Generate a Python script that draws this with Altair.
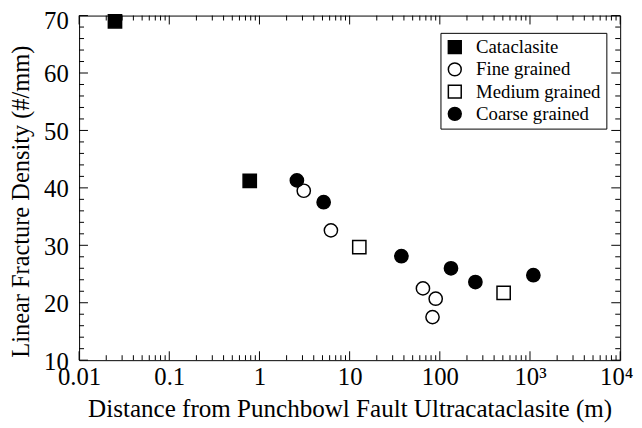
import altair as alt
import pandas as pd

FONT = "Liberation Serif"

categories = ["Cataclasite", "Fine grained", "Medium grained", "Coarse grained"]
shapes = ["square", "circle", "square", "circle"]
fills = ["black", "white", "white", "black"]

cataclasite_x = [0.025, 0.78]
cataclasite_y = [69.0, 41.2]
fine_x = [3.1, 6.2, 65, 90, 83]
fine_y = [39.5, 32.6, 22.5, 20.7, 17.5]
medium_x = [12.8, 510]
medium_y = [29.7, 21.7]
coarse_x = [2.6, 5.15, 37.5, 133, 248, 1090]
coarse_y = [41.3, 37.5, 28.1, 26.0, 23.6, 24.8]

x_major = [0.01, 0.1, 1, 10, 100, 1000, 10000]
x_labels = ["0.01", "0.1", "1", "10", "100", "10³", "10⁴"]
x_minor = [k * d for d in [0.01, 0.1, 1, 10, 100, 1000] for k in range(2, 10)]
y_major = [10, 20, 30, 40, 50, 60, 70]
y_minor = [v for v in range(12, 70, 2) if v % 10 != 0]

rows = []
for cat, xs, ys in zip(categories,
                       [cataclasite_x, fine_x, medium_x, coarse_x],
                       [cataclasite_y, fine_y, medium_y, coarse_y]):
    for xv, yv in zip(xs, ys):
        rows.append({"cat": cat, "x": xv, "y": yv})
df = pd.DataFrame(rows)

W, H = 548, 349
MAJ, MIN = 9, 5

xscale = alt.Scale(type="log", domain=[0.01, 10000], nice=False)
yscale = alt.Scale(domain=[10, 70], nice=False, zero=False)

expr = "''"
for v, l in reversed(list(zip(x_major, x_labels))):
    expr = f"datum.value < {v * 1.5} ? '{l}' : ({expr})"

points = alt.Chart(df).mark_point(
    filled=True, stroke="black", strokeWidth=1.5, size=180, opacity=1
).encode(
    x=alt.X("x:Q", scale=xscale,
            axis=alt.Axis(values=x_major, labelExpr=expr, ticks=False, domain=False,
                          grid=False, labelFlush=False, labelOverlap=False,
                          labelPadding=5, labelFont=FONT, labelFontSize=25,
                          labelOffset={"condition": {"test": "datum.value > 5000", "value": -4},
                                       "value": 0},
                          titleFont=FONT, titleFontSize=25.4, titleFontWeight="normal",
                          title="Distance from Punchbowl Fault Ultracataclasite (m)",
                          titlePadding=7)),
    y=alt.Y("y:Q", scale=yscale,
            axis=alt.Axis(values=y_major, ticks=False, domain=False, grid=False,
                          labelPadding=11, labelFlush=False, labelOverlap=False,
                          labelFont=FONT, labelFontSize=25,
                          labelBaseline={"condition": {"test": "datum.value == 70", "value": "top"},
                                         "value": "middle"},
                          labelOffset={"condition": {"test": "datum.value == 70", "value": -7},
                                       "value": 1},
                          titleFont=FONT, titleFontSize=24.7, titleFontWeight="normal",
                          title="Linear Fracture Density (#/mm)",
                          titleX=-46, titleY=188)),
    shape=alt.Shape("cat:N", scale=alt.Scale(domain=categories, range=shapes),
                    legend=alt.Legend(title=None)),
    fill=alt.Fill("cat:N", scale=alt.Scale(domain=categories, range=fills),
                  legend=alt.Legend(title=None)),
)


def xticks(vals, length):
    d = pd.DataFrame({"v": vals})
    bottom = alt.Chart(d).mark_rule(color="black", strokeWidth=1).encode(
        x=alt.X("v:Q", scale=xscale), y=alt.value(H), y2=alt.value(H - length))
    top = alt.Chart(d).mark_rule(color="black", strokeWidth=1).encode(
        x=alt.X("v:Q", scale=xscale), y=alt.value(0), y2=alt.value(length))
    return [bottom, top]


def yticks(vals, length):
    d = pd.DataFrame({"v": vals})
    left = alt.Chart(d).mark_rule(color="black", strokeWidth=1).encode(
        y=alt.Y("v:Q", scale=yscale), x=alt.value(0), x2=alt.value(length))
    right = alt.Chart(d).mark_rule(color="black", strokeWidth=1).encode(
        y=alt.Y("v:Q", scale=yscale), x=alt.value(W), x2=alt.value(W - length))
    return [left, right]


layers = (xticks(x_major, MAJ) + xticks(x_minor, MIN)
          + yticks(y_major, MAJ) + yticks(y_minor, MIN) + [points])

chart = alt.layer(*layers).properties(
    width=W, height=H,
    autosize=alt.AutoSizeParams(type="none"),
    padding={"left": 72, "top": 5, "right": 14, "bottom": 64},
).configure_view(
    stroke="black", strokeWidth=1
).configure_axis(
    labelColor="black", titleColor="black",
).configure_legend(
    orient="none", legendX=366, legendY=17.5,
    strokeColor="black", fillColor="white", padding=5,
    labelFont=FONT, labelFontSize=19, labelColor="black",
    symbolSize=170, symbolStrokeWidth=1.5,
    rowPadding=1.5, labelOffset=12,
)

chart.save("out.html", embed_options={"renderer": "svg", "actions": False})
